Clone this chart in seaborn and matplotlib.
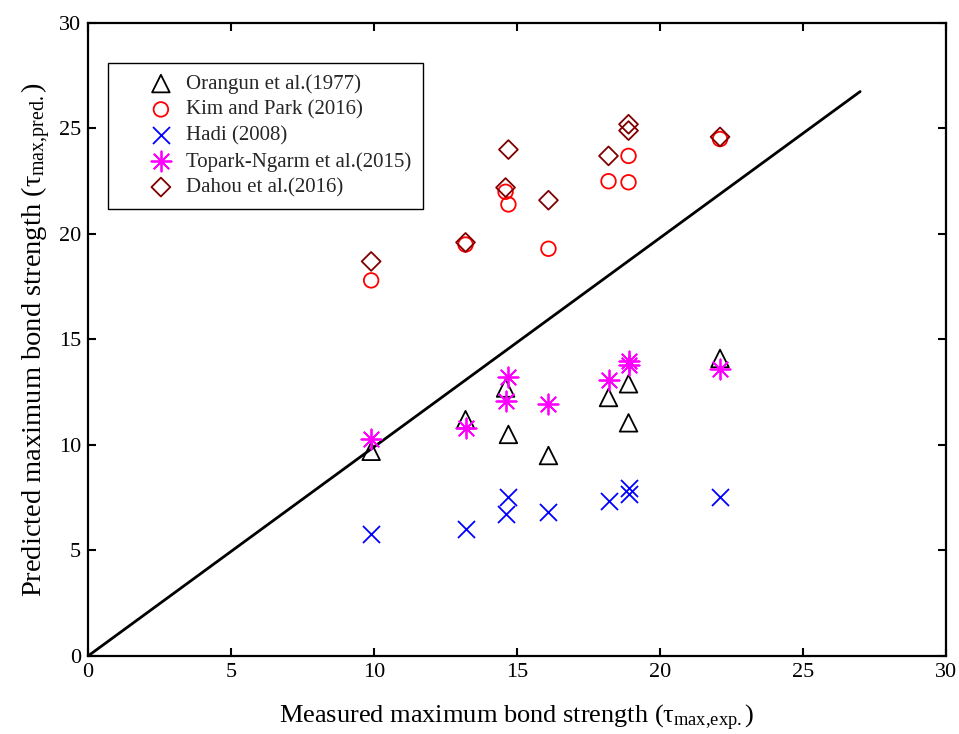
import matplotlib
matplotlib.use("Agg")
import matplotlib.pyplot as plt
import seaborn as sns
import pandas as pd

# Measured maximum bond strength of each specimen (x) and the predictions of each model (y)
measured = [9.9, 13.2, 14.6, 14.7, 16.1, 18.2, 18.9, 18.9, 22.1]

orangun = [9.7, 11.2, 12.7, 10.5, 9.5, 12.25, 12.9, 11.05, 14.1]
kim_park = [17.8, 19.5, 22.0, 21.4, 19.3, 22.5, 23.7, 22.45, 24.5]
hadi = [5.8, 6.0, 6.75, 7.55, 6.8, 7.35, 7.95, 7.7, 7.55]
topark = [10.3, 10.8, 12.1, 13.2, 11.95, 13.1, 14.0, 13.8, 13.6]
dahou = [18.7, 19.6, 22.2, 24.0, 21.6, 23.7, 25.2, 24.9, 24.6]

series_labels = [
    "Orangun et al.(1977)",
    "Kim and Park (2016)",
    "Hadi (2008)",
    "Topark-Ngarm et al.(2015)",
    "Dahou et al.(2016)",
]

# Reference line (measured = predicted)
line_x = [0, 27]
line_y = [0, 26.75]

x_ticks = [0, 5, 10, 15, 20, 25, 30]
y_ticks = [0, 5, 10, 15, 20, 25, 30]

sns.set_theme(style="ticks")
plt.rcParams["font.family"] = ["Liberation Serif", "DejaVu Serif"]
plt.rcParams["mathtext.fontset"] = "custom"
plt.rcParams["mathtext.rm"] = "Liberation Serif"
plt.rcParams["mathtext.it"] = "Liberation Serif"
plt.rcParams["mathtext.bf"] = "Liberation Serif:bold"

fig = plt.figure(figsize=(9.59, 7.34), dpi=100)
ax = fig.add_axes([0.0918, 0.1063, 0.8946, 0.8624])

sns.lineplot(x=line_x, y=line_y, color="black", linewidth=2.0, ax=ax,
             legend=False, estimator=None, sort=False)

styles = [
    (orangun, "^", "black", 160, True),
    (kim_park, "o", "#ff0000", 110, True),
    (hadi, "x", "#0000ff", 150, False),
    (topark, (8, 2, 0), "#ff00ff", 210, False),
    (dahou, "D", "#800000", 92, True),
]

for (values, marker, color, size, hollow), label in zip(styles, series_labels):
    df = pd.DataFrame({"measured": measured, "predicted": values})
    if hollow:
        sns.scatterplot(data=df, x="measured", y="predicted", marker=marker, s=size,
                        color=color, facecolor="none", edgecolor=color,
                        linewidth=1.3, label=label, ax=ax, zorder=3)
    else:
        sns.scatterplot(data=df, x="measured", y="predicted", marker=marker, s=size,
                        color=color, linewidth=1.3, label=label, ax=ax, zorder=3)

ax.set_xlim(0, 30)
ax.set_ylim(0, 30)
ax.set_xticks(x_ticks)
ax.set_yticks(y_ticks)
ax.set_xticklabels([str(t) for t in x_ticks])
ax.set_yticklabels([str(t) for t in y_ticks])

for side in ["top", "right", "bottom", "left"]:
    ax.spines[side].set_visible(True)
    ax.spines[side].set_linewidth(1.6)
    ax.spines[side].set_color("black")

ax.tick_params(axis="both", direction="in", length=6, width=1.5,
               top=True, right=True, labelsize=16, pad=5, colors="black")

ax.set_xlabel(r"Measured maximum bond strength ($\tau_{\mathrm{max{,}exp.}}$)",
              fontsize=19, labelpad=15, color="black")
ax.set_ylabel(r"Predicted maximum bond strength ($\tau_{\mathrm{max{,}pred.}}$)",
              fontsize=20.5, labelpad=4, color="black")

leg = ax.legend(loc="upper left", bbox_to_anchor=(0.023, 0.937), borderaxespad=0,
                fontsize=15, frameon=True, fancybox=False, shadow=False,
                handlelength=4.0, handletextpad=-0.8, borderpad=0.55,
                labelspacing=0.3, scatterpoints=1)
leg.get_frame().set_edgecolor("black")
leg.get_frame().set_linewidth(1.0)
leg.get_frame().set_alpha(1)

fig.savefig("out.png", dpi=100, facecolor="white")
